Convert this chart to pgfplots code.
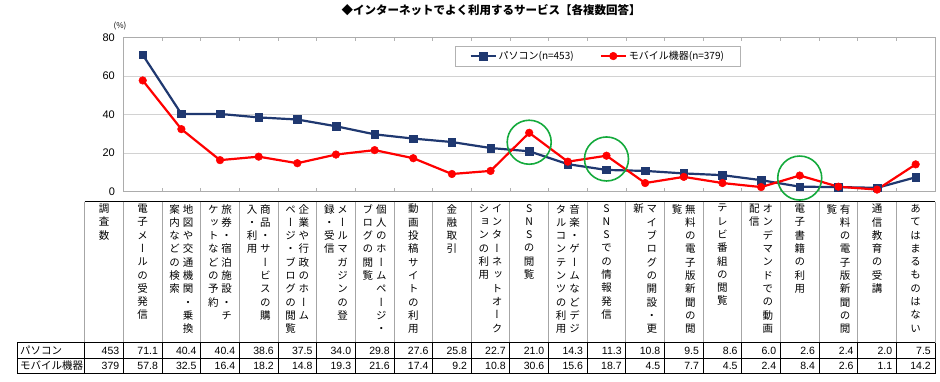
\documentclass[border=0pt]{standalone}
\usepackage{pgfplots}
\pgfplotsset{compat=1.18}
\usepackage{fontspec}
\setmainfont{Liberation Sans}
\newfontfamily\jp{Noto Sans CJK JP}
\newfontfamily\jpv[RawFeature=+vert]{Noto Sans CJK JP}
\definecolor{pcblue}{RGB}{31,56,112}
\definecolor{mred}{RGB}{255,0,0}
\definecolor{cgreen}{RGB}{20,170,60}
\makeatletter
\def\vstack#1{\vtop{\baselineskip=13.3pt\lineskiplimit=-\maxdimen\vstackaux#1\relax}}
\def\vstackaux#1{\ifx\relax#1\else\hbox to 12pt{\hss#1\hss}\expandafter\vstackaux\fi}
\makeatother
\newcommand\hc[3]{\node[anchor=north,inner sep=0pt] at (#1,177) {\jpv\fontsize{10.5}{13.3}\selectfont\if\relax\detokenize{#3}\relax\vstack{#2}\else\hbox{\vstack{#3}\hskip1.3pt\vstack{#2}}\fi};}
\begin{document}
\begin{tikzpicture}
\path[use as bounding box] (0pt,0pt) rectangle (940pt,381pt);
\begin{axis}[
  at={(123.4pt,189.3pt)}, anchor=south west,
  scale only axis, width=811.6pt, height=154pt,
  xmin=-0.5, xmax=20.5, ymin=0, ymax=80,
  xtick={0.5,1.5,...,19.5}, xticklabels={},
  major tick length=3.5pt, tick align=inside,
  xtick style={draw=gray!60, line width=0.6pt},
  ytick={0,20,40,60,80}, ytick style={draw=none},
  ymajorgrids, grid style={draw=gray!35, line width=0.9pt},
  axis line style={draw=gray!65, line width=0.9pt},
  /pgf/number format/assume math mode=true,
  yticklabel style={font=\fontsize{11}{11}\selectfont, xshift=-5pt},
  legend style={at={(0.4086,0.948)}, anchor=north west, legend columns=2,
    draw=gray!60, line width=0.8pt, font=\jp\fontsize{10}{12}\selectfont,
    inner xsep=14pt, inner ysep=3pt,
    /tikz/every even column/.append style={column sep=24pt}},
  legend image code/.code={\draw[mark repeat=2,mark phase=2,#1] plot coordinates {(0pt,0pt)(12.5pt,0pt)(25pt,0pt)};},
  clip=false,
]
\addplot[pcblue, line width=2.2pt, mark=square*, mark size=3.8pt, mark options={line width=0.5pt}] coordinates {
(0,71.1)(1,40.4)(2,40.4)(3,38.6)(4,37.5)(5,34.0)(6,29.8)(7,27.6)(8,25.8)(9,22.7)(10,21.0)
(11,14.3)(12,11.3)(13,10.8)(14,9.5)(15,8.6)(16,6.0)(17,2.6)(18,2.4)(19,2.0)(20,7.5)};
\addlegendentry{パソコン(n=453)}
\addplot[mred, line width=2.2pt, mark=*, mark size=3.8pt, mark options={line width=0.5pt}] coordinates {
(0,57.8)(1,32.5)(2,16.4)(3,18.2)(4,14.8)(5,19.3)(6,21.6)(7,17.4)(8,9.2)(9,10.8)(10,30.6)
(11,15.6)(12,18.7)(13,4.5)(14,7.7)(15,4.5)(16,2.4)(17,8.4)(18,2.6)(19,1.1)(20,14.2)};
\addlegendentry{モバイル機器(n=379)}
\draw[cgreen, line width=1.6pt] (axis cs:10,25.7) circle[radius=22pt];
\draw[cgreen, line width=1.6pt] (axis cs:12,17.0) circle[radius=22pt];
\draw[cgreen, line width=1.6pt] (axis cs:17,7.1) circle[radius=22pt];
\end{axis}
\begin{scope}[x=1pt,y=1pt]
% title
\node at (491,370.5) {\jp\bfseries\fontsize{11.5}{12}\selectfont ◆インターネットでよく利用するサービス【各複数回答】};
\node at (120,355) {\jp\fontsize{8}{9}\selectfont (\%)};
% table lines
\draw[black, line width=0.9pt] (84.6,179.3) -- (935,179.3);
\foreach \k in {0,...,21} {\draw[gray!70, line width=0.8pt] ({123.4+38.648*\k},179.3) -- ({123.4+38.648*\k},38.5);}
\draw[gray!70, line width=0.8pt] (84.6,179.3) -- (84.6,38.5);
\foreach \k in {0,...,21} {\draw[black, line width=0.8pt] ({123.4+38.648*\k},38.5) -- ({123.4+38.648*\k},7.5);}
\draw[black, line width=0.8pt] (84.6,38.5) -- (84.6,7.5);
\draw[black, line width=0.8pt] (17.3,38.5) -- (17.3,7.5);
\draw[black, line width=1.8pt] (17.3,38.5) -- (935,38.5);
\draw[black, line width=0.9pt] (17.3,22.7) -- (935,22.7);
\draw[black, line width=0.9pt] (17.3,7.5) -- (935,7.5);
% header texts
\hc{104}{調査数}{}
\hc{142.7}{電子メールの受発信}{}
\hc{181.35}{地図や交通機関・乗換}{案内などの検索}
\hc{220.0}{旅券・宿泊施設・チ}{ケットなどの予約}
\hc{258.65}{商品・サービスの購}{入・利用}
\hc{297.3}{企業や行政のホーム}{ページ・ブログの閲覧}
\hc{335.95}{メールマガジンの登}{録・受信}
\hc{374.6}{個人のホームページ・}{ブログの閲覧}
\hc{413.25}{動画投稿サイトの利用}{}
\hc{451.9}{金融取引}{}
\hc{490.55}{インターネットオーク}{ションの利用}
\hc{529.2}{SNSの閲覧}{}
\hc{567.85}{音楽・ゲームなどデジ}{タルコンテンツの利用}
\hc{606.5}{SNSでの情報発信}{}
\hc{645.15}{マイブログの開設・更}{新}
\hc{683.8}{無料の電子版新聞の閲}{覧}
\hc{722.45}{テレビ番組の閲覧}{}
\hc{761.1}{オンデマンドでの動画}{配信}
\hc{799.75}{電子書籍の利用}{}
\hc{838.4}{有料の電子版新聞の閲}{覧}
\hc{877.05}{通信教育の受講}{}
\hc{915.7}{あてはまるものはない}{}
% row labels
\node[anchor=west, inner sep=0pt] at (20,30.4) {\jp\fontsize{10.5}{12}\selectfont パソコン};
\node[anchor=west, inner sep=0pt] at (20,15.1) {\jp\fontsize{10.5}{12}\selectfont モバイル機器};
\node[anchor=east, inner sep=0pt] at (119.4,30.4) {\fontsize{10.5}{12}\selectfont 453};
\node[anchor=east, inner sep=0pt] at (119.4,15.1) {\fontsize{10.5}{12}\selectfont 379};
\foreach \v [count=\k] in {71.1,40.4,40.4,38.6,37.5,34.0,29.8,27.6,25.8,22.7,21.0,14.3,11.3,10.8,9.5,8.6,6.0,2.6,2.4,2.0,7.5}
  {\node[anchor=east, inner sep=0pt] at ({123.4+38.648*\k-4},30.4) {\fontsize{10.5}{12}\selectfont \v};}
\foreach \v [count=\k] in {57.8,32.5,16.4,18.2,14.8,19.3,21.6,17.4,9.2,10.8,30.6,15.6,18.7,4.5,7.7,4.5,2.4,8.4,2.6,1.1,14.2}
  {\node[anchor=east, inner sep=0pt] at ({123.4+38.648*\k-4},15.1) {\fontsize{10.5}{12}\selectfont \v};}
\end{scope}
\end{tikzpicture}
\end{document}
